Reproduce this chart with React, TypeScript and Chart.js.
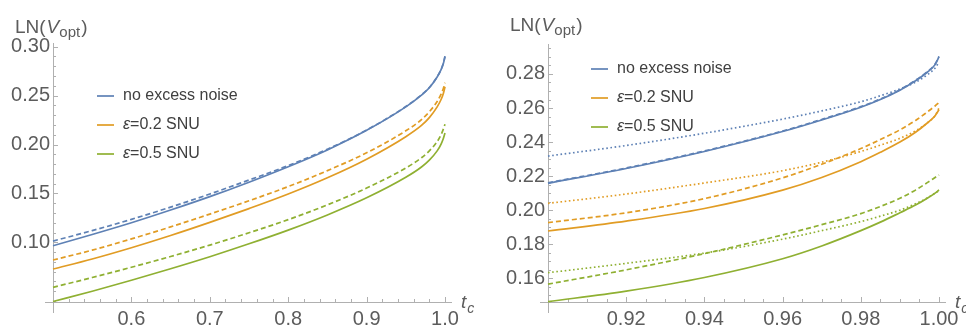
import React, { useEffect, useRef } from "react";
import { Chart, registerables } from "chart.js";

Chart.register(...registerables);

// ---- wide view: t_c from 0.5 to 1.0 ----
const leftT = [0.5, 0.55, 0.6, 0.65, 0.7, 0.75, 0.8, 0.85, 0.9, 0.95, 0.97, 0.98, 0.99, 0.995, 0.998, 1.0];
const leftBlueSolid = [0.0965, 0.108, 0.12, 0.133, 0.1467, 0.1615, 0.1773, 0.1945, 0.2145, 0.2385, 0.2505, 0.258, 0.269, 0.2765, 0.283, 0.29];
const leftBlueDashed = [0.1013, 0.112, 0.1235, 0.136, 0.1494, 0.1637, 0.1785, 0.1952, 0.2148, 0.2388, 0.2508, 0.2583, 0.2693, 0.2768, 0.2833, 0.2903];
const leftOrangeSolid = [0.0727, 0.083, 0.0945, 0.107, 0.1204, 0.1345, 0.1494, 0.166, 0.185, 0.208, 0.2195, 0.2275, 0.2385, 0.246, 0.2525, 0.259];
const leftOrangeDashed = [0.0819, 0.092, 0.1035, 0.1158, 0.1289, 0.1425, 0.157, 0.1733, 0.1915, 0.214, 0.2255, 0.2335, 0.244, 0.2515, 0.2575, 0.2632];
const leftGreenSolid = [0.0395, 0.05, 0.0612, 0.073, 0.0853, 0.0985, 0.1125, 0.128, 0.1455, 0.1665, 0.177, 0.184, 0.1935, 0.2005, 0.2065, 0.2119];
const leftGreenDashed = [0.054, 0.064, 0.0745, 0.0855, 0.0972, 0.1098, 0.1232, 0.1383, 0.1555, 0.176, 0.1865, 0.1935, 0.203, 0.21, 0.216, 0.2207];

// ---- close-up: t_c from 0.9 to 1.0 ----
const rightT = [0.9, 0.92, 0.94, 0.96, 0.97, 0.98, 0.985, 0.99, 0.994, 0.997, 0.999, 1.0];
const rightBlueSolid = [0.2158, 0.2245, 0.2345, 0.2462, 0.253, 0.2605, 0.265, 0.2705, 0.276, 0.281, 0.2855, 0.29];
const rightBlueDashed = [0.2161, 0.2248, 0.2348, 0.2465, 0.2533, 0.2608, 0.2653, 0.2708, 0.2763, 0.2813, 0.2858, 0.2903];
const rightBlueDotted = [0.2318, 0.238, 0.2452, 0.2535, 0.2583, 0.2637, 0.2672, 0.2712, 0.2752, 0.2795, 0.2835, 0.287];
const rightOrangeSolid = [0.1878, 0.1936, 0.201, 0.2118, 0.2192, 0.2285, 0.234, 0.24, 0.2458, 0.2512, 0.2555, 0.259];
const rightOrangeDashed = [0.1927, 0.1985, 0.2068, 0.219, 0.227, 0.2362, 0.2415, 0.2472, 0.2527, 0.2577, 0.2612, 0.2632];
const rightOrangeDotted = [0.204, 0.2095, 0.216, 0.2232, 0.2282, 0.2345, 0.2382, 0.2422, 0.2466, 0.2512, 0.2555, 0.26];
const rightGreenSolid = [0.1463, 0.1525, 0.1605, 0.1715, 0.179, 0.188, 0.193, 0.1985, 0.203, 0.207, 0.21, 0.2119];
const rightGreenDashed = [0.1566, 0.165, 0.1745, 0.1855, 0.1915, 0.198, 0.2022, 0.207, 0.2118, 0.2162, 0.2192, 0.2207];
const rightGreenDotted = [0.1633, 0.1688, 0.1748, 0.183, 0.188, 0.1933, 0.1965, 0.2, 0.2038, 0.2072, 0.21, 0.2115];

const legendLabels = [
  { sym: "", text: "no excess noise" },
  { sym: "\u03b5", text: "=0.2 SNU" },
  { sym: "\u03b5", text: "=0.5 SNU" },
];

// tick labels
const leftXTicks = [0.6, 0.7, 0.8, 0.9, 1.0];
const leftYTicks = [0.1, 0.15, 0.2, 0.25, 0.3];
const rightXTicks = [0.92, 0.94, 0.96, 0.98, 1.0];
const rightYTicks = [0.16, 0.18, 0.2, 0.22, 0.24, 0.26, 0.28];

const COLORS = ["#5E81B5", "#E19C24", "#8FB032"];
const FONT = "'Liberation Sans', Arial, sans-serif";
const AXIS_COLOR = "#b0b0b0";
const TICK_TEXT = "#5c5c5c";
const LEGEND_TEXT = "#404040";

type Series = (number)[][]; // [solid, dashed, dotted?] per colour

type Panel = {
  left: number;
  width: number;
  height: number;
  padding: { left: number; top: number; right: number; bottom: number };
  xMin: number;
  xMax: number;
  yMin: number;
  yMax: number;
  t: number[];
  series: Series[];
  xTicks: number[];
  yTicks: number[];
  xMinor: number;
  yMinor: number;
  xDigits: number;
  yDigits: number;
  legendX: number;
  legendY: number;
  legendGap: number;
  titleX: number;
  titleY: number;
};

const leftPanel: Panel = {
  left: 0,
  width: 480,
  height: 327,
  padding: { left: 53, top: 43, right: 35, bottom: 25 },
  xMin: 0.5,
  xMax: 1.0,
  yMin: 0.039,
  yMax: 0.3038,
  t: leftT,
  series: [
    [leftBlueSolid, leftBlueDashed],
    [leftOrangeSolid, leftOrangeDashed],
    [leftGreenSolid, leftGreenDashed],
  ],
  xTicks: leftXTicks,
  yTicks: leftYTicks,
  xMinor: 0.02,
  yMinor: 0.01,
  xDigits: 1,
  yDigits: 2,
  legendX: 97,
  legendY: 96,
  legendGap: 29,
  titleX: 15,
  titleY: 33,
};

const rightPanel: Panel = {
  left: 480,
  width: 486,
  height: 327,
  padding: { left: 68, top: 44, right: 27, bottom: 25 },
  xMin: 0.9,
  xMax: 1.0,
  yMin: 0.1461,
  yMax: 0.2976,
  t: rightT,
  series: [
    [rightBlueSolid, rightBlueDashed, rightBlueDotted],
    [rightOrangeSolid, rightOrangeDashed, rightOrangeDotted],
    [rightGreenSolid, rightGreenDashed, rightGreenDotted],
  ],
  xTicks: rightXTicks,
  yTicks: rightYTicks,
  xMinor: 0.005,
  yMinor: 0.005,
  xDigits: 2,
  yDigits: 2,
  legendX: 111,
  legendY: 69,
  legendGap: 29,
  titleX: 30,
  titleY: 31,
};

const DASHES = [[], [5, 3], [1.6, 2.6]];

function buildDatasets(p: Panel) {
  const ds: any[] = [];
  p.series.forEach((group, ci) => {
    group.forEach((values, k) => {
      ds.push({
        data: p.t.map((x, i) => ({ x, y: values[i] })),
        borderColor: COLORS[ci],
        borderWidth: 1.7,
        borderDash: DASHES[k],
        borderCapStyle: "butt",
        pointRadius: 0,
        fill: false,
        cubicInterpolationMode: "monotone",
        clip: false,
      });
    });
  });
  return ds;
}

function decoPlugin(p: Panel) {
  return {
    id: "panelDeco",
    beforeDatasetsDraw(chart: any) {
      const { ctx, chartArea } = chart;
      const xs = chart.scales.x;
      const ys = chart.scales.y;
      const x0 = chartArea.left;
      const y0 = chartArea.bottom;
      ctx.save();
      ctx.strokeStyle = AXIS_COLOR;
      ctx.lineWidth = 1;
      // axis lines
      ctx.beginPath();
      ctx.moveTo(x0 - 8, y0 + 0.5);
      ctx.lineTo(chartArea.right + 7, y0 + 0.5);
      ctx.moveTo(x0 + 0.5, chartArea.top);
      ctx.lineTo(x0 + 0.5, y0 + 11);
      ctx.stroke();
      // tick marks, drawn inward
      ctx.beginPath();
      const isMajor = (v: number, list: number[]) => list.some((m) => Math.abs(m - v) < 1e-6);
      const nx = Math.round((p.xMax - p.xMin) / p.xMinor);
      for (let i = 1; i <= nx; i++) {
        const v = p.xMin + i * p.xMinor;
        const px = Math.round(xs.getPixelForValue(v)) + 0.5;
        const len = isMajor(v, p.xTicks) ? 5 : 3;
        ctx.moveTo(px, y0);
        ctx.lineTo(px, y0 - len);
      }
      const first = Math.ceil((p.yMin + 1e-9) / p.yMinor);
      const last = Math.floor((p.yMax + 1e-9) / p.yMinor);
      for (let j = first; j <= last; j++) {
        const v = j * p.yMinor;
        const py = Math.round(ys.getPixelForValue(v)) + 0.5;
        const len = isMajor(v, p.yTicks) ? 5 : 3;
        ctx.moveTo(x0, py);
        ctx.lineTo(x0 + len, py);
      }
      ctx.stroke();
      ctx.restore();
    },
    afterDatasetsDraw(chart: any) {
      const { ctx, chartArea } = chart;
      const xs = chart.scales.x;
      const ys = chart.scales.y;
      ctx.save();
      // tick labels
      ctx.fillStyle = TICK_TEXT;
      ctx.font = `20px ${FONT}`;
      ctx.textAlign = "center";
      ctx.textBaseline = "alphabetic";
      p.xTicks.forEach((v) => {
        ctx.fillText(v.toFixed(p.xDigits), xs.getPixelForValue(v), 325);
      });
      ctx.textAlign = "right";
      ctx.textBaseline = "middle";
      p.yTicks.forEach((v) => {
        ctx.fillText(v.toFixed(p.yDigits), chartArea.left - 3, ys.getPixelForValue(v));
      });
      // y-axis title LN(V_opt)
      ctx.textAlign = "left";
      ctx.textBaseline = "alphabetic";
      let tx = p.titleX;
      const ty = p.titleY;
      ctx.font = `19px ${FONT}`;
      ctx.fillText("LN(", tx, ty);
      tx += ctx.measureText("LN(").width + 1;
      ctx.font = `italic 19px ${FONT}`;
      ctx.fillText("V", tx, ty);
      tx += ctx.measureText("V").width;
      ctx.font = `15px ${FONT}`;
      ctx.fillText("opt", tx, ty + 4);
      tx += ctx.measureText("opt").width + 1;
      ctx.font = `19px ${FONT}`;
      ctx.fillText(")", tx, ty);
      // x-axis title t_c
      const ax = chartArea.right + 16;
      ctx.font = `italic 19px ${FONT}`;
      ctx.fillText("t", ax, 308);
      const tw = ctx.measureText("t").width;
      ctx.font = `italic 14px ${FONT}`;
      ctx.fillText("c", ax + tw + 1, 313);
      // legend
      legendLabels.forEach((item, i) => {
        const ly = p.legendY + i * p.legendGap;
        ctx.strokeStyle = COLORS[i];
        ctx.lineWidth = 1.7;
        ctx.beginPath();
        ctx.moveTo(p.legendX, ly);
        ctx.lineTo(p.legendX + 17, ly);
        ctx.stroke();
        ctx.fillStyle = LEGEND_TEXT;
        ctx.textBaseline = "middle";
        let lx = p.legendX + 26;
        if (item.sym) {
          ctx.font = `italic 16px ${FONT}`;
          ctx.fillText(item.sym, lx, ly);
          lx += ctx.measureText(item.sym).width;
        }
        ctx.font = `16px ${FONT}`;
        ctx.fillText(item.text, lx, ly);
      });
      ctx.restore();
    },
  };
}

function PanelChart({ panel }: { panel: Panel }) {
  const ref = useRef<HTMLCanvasElement>(null);
  useEffect(() => {
    const canvas = ref.current;
    if (!canvas) return;
    const chart = new Chart(canvas, {
      type: "line",
      data: { datasets: buildDatasets(panel) },
      options: {
        animation: false,
        responsive: false,
        devicePixelRatio: 1,
        layout: { padding: panel.padding },
        plugins: {
          legend: { display: false },
          title: { display: false },
          tooltip: { enabled: false },
        },
        scales: {
          x: { type: "linear", display: false, min: panel.xMin, max: panel.xMax },
          y: { type: "linear", display: false, min: panel.yMin, max: panel.yMax },
        },
      },
      plugins: [decoPlugin(panel)],
    } as any);
    return () => chart.destroy();
  }, [panel]);
  return (
    <canvas
      ref={ref}
      width={panel.width}
      height={panel.height}
      style={{ position: "absolute", left: panel.left, top: 0, width: panel.width, height: panel.height }}
    />
  );
}

export default function App() {
  return (
    <div style={{ position: "fixed", left: 0, top: 0, width: 966, height: 327, background: "#ffffff", overflow: "hidden" }}>
      <PanelChart panel={leftPanel} />
      <PanelChart panel={rightPanel} />
    </div>
  );
}
